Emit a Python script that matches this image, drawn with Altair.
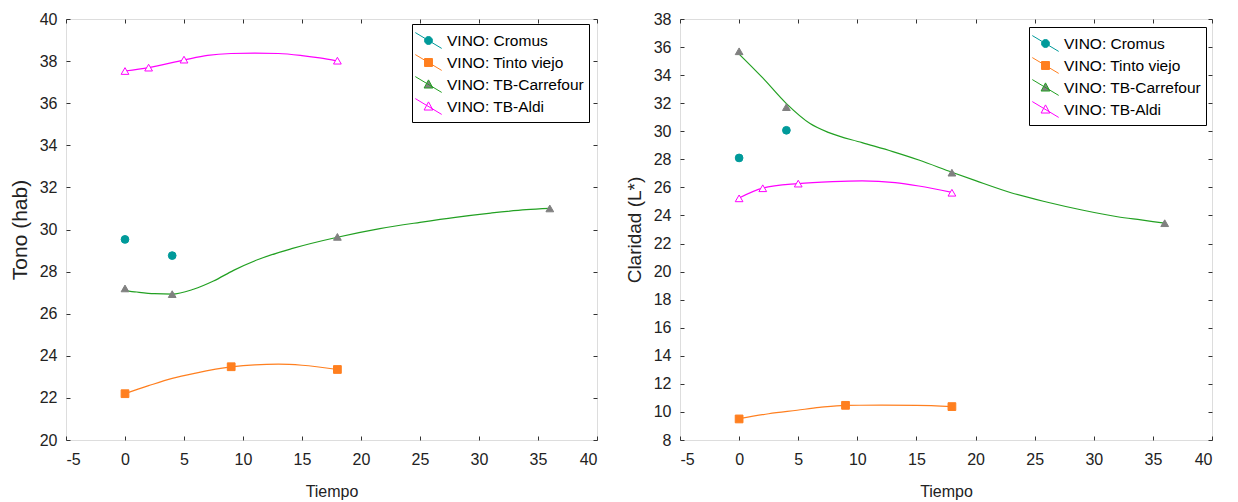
import altair as alt
import pandas as pd

SERIES = ["VINO: Cromus", "VINO: Tinto viejo", "VINO: TB-Carrefour", "VINO: TB-Aldi"]
LINE_COLORS = ["#009a9a", "#ff7f1f", "#22a022", "#ff00ff"]
MARK_FILLS = ["#009a9a", "#ff7f1f", "#808080", "#ffffff"]
MARK_STROKES = ["#009a9a", "#ff7f1f", "#808080", "#ff00ff"]
MARK_SHAPES = ["circle", "square", "triangle-up", "triangle-up"]
LEG_STROKES = ["#009a9a", "#ff7f1f", "#22a022", "#ff00ff"]
LEG_PATHS = [
    "M-1.2,-0.72L1.2,0.72M0.36,0A0.36,0.36,0,1,1,-0.36,0A0.36,0.36,0,1,1,0.36,0Z",
    "M-1.2,-0.72L1.2,0.72M-0.36,-0.36H0.36V0.36H-0.36Z",
    "M-1.2,-0.72L1.2,0.72M0,-0.42L0.4,0.32H-0.4Z",
    "M-1.2,-0.72L1.2,0.72M0,-0.42L0.4,0.32H-0.4Z",
]

X_TICKS = [-5, 0, 5, 10, 15, 20, 25, 30, 35, 40]
TONO_TICKS = [20, 22, 24, 26, 28, 30, 32, 34, 36, 38, 40]
CLAR_TICKS = [8, 10, 12, 14, 16, 18, 20, 22, 24, 26, 28, 30, 32, 34, 36, 38]

# ---- Tono (hab): measured points ----
tono_cromus_t = [0, 4]
tono_cromus_v = [29.53, 28.76]
tono_tinto_t = [0, 9, 18]
tono_tinto_v = [22.2, 23.48, 23.35]
tono_carre_t = [0, 4, 18, 36]
tono_carre_v = [27.2, 26.93, 29.65, 31.0]
tono_aldi_t = [0, 2, 5, 18]
tono_aldi_v = [37.53, 37.69, 38.07, 38.02]

# ---- Tono (hab): fitted curves ----
tono_tinto_ct = [0, 2, 4, 6, 9, 11, 13, 15, 18]
tono_tinto_cv = [22.2, 22.58, 22.93, 23.18, 23.47, 23.57, 23.6, 23.55, 23.35]
tono_carre_ct = [0, 1, 2.5, 4, 5.8, 7.5, 9.2, 11.4, 14.2, 18, 21.6, 25, 28, 31, 34, 36]
tono_carre_cv = [27.1, 27.03, 26.95, 26.93, 27.16, 27.55, 28.06, 28.6, 29.1, 29.63,
                 30.04, 30.34, 30.58, 30.78, 30.94, 31.0]
tono_aldi_ct = [0, 2, 5, 7, 9, 11, 13, 15, 16.5, 18]
tono_aldi_cv = [37.53, 37.69, 38.05, 38.27, 38.36, 38.38, 38.36, 38.26, 38.15, 38.0]

# ---- Claridad (L*): measured points ----
clar_cromus_t = [0, 4]
clar_cromus_v = [28.1, 30.07]
clar_tinto_t = [0, 9, 18]
clar_tinto_v = [9.5, 10.47, 10.38]
clar_carre_t = [0, 4, 18, 36]
clar_carre_v = [35.7, 31.72, 27.05, 23.45]
clar_aldi_t = [0, 2, 5, 18]
clar_aldi_v = [25.22, 25.94, 26.27, 25.62]

# ---- Claridad (L*): fitted curves ----
clar_tinto_ct = [0, 2.5, 4.9, 6.8, 9, 12, 15, 18]
clar_tinto_cv = [9.52, 9.87, 10.12, 10.32, 10.47, 10.48, 10.47, 10.38]
clar_carre_ct = [0, 2, 4, 6, 7.6, 10.4, 13, 15.2, 18, 20, 23, 26, 29, 32, 34, 36]
clar_carre_cv = [35.5, 33.8, 31.97, 30.55, 29.9, 29.19, 28.55, 27.95, 27.08, 26.48,
                 25.62, 24.96, 24.39, 23.91, 23.68, 23.45]
clar_aldi_ct = [0, 2, 5, 7.9, 10.4, 13.2, 15.2, 18]
clar_aldi_cv = [25.25, 25.95, 26.27, 26.41, 26.46, 26.34, 26.1, 25.65]

FONT = "Liberation Sans"
TXT = "#222222"
W, H = 531, 421
HYPHEN_LABEL = "datum.value < 0 ? '-' + abs(datum.value) : '' + datum.value"


def frame(parts):
    rows = []
    for name, ts, vs in parts:
        for t, v in zip(ts, vs):
            rows.append({"t": t, "v": v, "serie": name})
    return pd.DataFrame(rows)


def panel(points, curves, ydom, yticks, ytitle, ytitle_size, legx, legy, width):
    xs = alt.Scale(domain=[-5, 40], nice=False, zero=False)
    ys = alt.Scale(domain=ydom, nice=False, zero=False)
    tick_axis = dict(labels=False, ticks=True, tickSize=4, tickColor="#333333",
                     tickWidth=1, domain=False, grid=False, title=None)

    lines = alt.Chart(curves).mark_line(strokeWidth=1.2, interpolate="monotone").encode(
        x=alt.X("t:Q", scale=xs, axis=alt.Axis(
            orient="bottom", values=X_TICKS, title="Tiempo", ticks=False, tickSize=0,
            domain=False, grid=False, labelPadding=11, labelFontSize=16, labelFont=FONT,
            labelColor=TXT, titleFont=FONT, titleFontSize=16, titleFontWeight="normal",
            titleColor=TXT, titlePadding=16, labelExpr=HYPHEN_LABEL)),
        y=alt.Y("v:Q", scale=ys, axis=alt.Axis(
            orient="left", values=yticks, title=ytitle, ticks=False, tickSize=0,
            domain=False, grid=False, labelPadding=9, labelFontSize=16, labelFont=FONT,
            labelColor=TXT, titleFont=FONT, titleFontSize=ytitle_size,
            titleFontWeight="normal", titleColor=TXT, titlePadding=9)),
        color=alt.Color("serie:N", scale=alt.Scale(domain=SERIES, range=LINE_COLORS),
                        legend=None),
    )

    pts = alt.Chart(points).mark_point(opacity=1, strokeWidth=1, size=60).encode(
        x=alt.X("t:Q", scale=xs, axis=alt.Axis(orient="top", offset=-H, values=X_TICKS,
                                               **tick_axis)),
        y=alt.Y("v:Q", scale=ys, axis=alt.Axis(orient="right", offset=-width, values=yticks,
                                               **tick_axis)),
        fill=alt.Fill("serie:N", scale=alt.Scale(domain=SERIES, range=MARK_FILLS),
                      legend=None),
        stroke=alt.Stroke("serie:N", scale=alt.Scale(domain=SERIES, range=MARK_STROKES),
                          legend=None),
        shape=alt.Shape("serie:N", scale=alt.Scale(domain=SERIES, range=MARK_SHAPES),
                        legend=None),
    )

    leg = alt.Legend(orient="none", legendX=legx, legendY=legy, title=None,
                     labelFont=FONT, labelFontSize=15.5, labelColor="#000000",
                     symbolSize=484, symbolStrokeWidth=1, symbolOpacity=1,
                     strokeColor="#000000", fillColor="#ffffff", padding=5,
                     rowPadding=0, labelOffset=7)
    empty = pd.DataFrame({"t": pd.Series([], dtype=float), "v": pd.Series([], dtype=float),
                          "serie": pd.Series([], dtype=str)})
    proxy = alt.Chart(empty).mark_point(opacity=1, filled=True).encode(
        x=alt.X("t:Q", scale=xs, axis=alt.Axis(orient="bottom", offset=-H, values=X_TICKS,
                                               **tick_axis)),
        y=alt.Y("v:Q", scale=ys, axis=alt.Axis(orient="left", offset=-width, values=yticks,
                                               **tick_axis)),
        fill=alt.Fill("serie:N", scale=alt.Scale(domain=SERIES, range=MARK_FILLS), legend=leg),
        stroke=alt.Stroke("serie:N", scale=alt.Scale(domain=SERIES, range=LEG_STROKES),
                          legend=leg),
        shape=alt.Shape("serie:N", scale=alt.Scale(domain=SERIES, range=LEG_PATHS), legend=leg),
    )

    return alt.layer(lines, pts, proxy).resolve_scale(
        fill="independent", stroke="independent", shape="independent", color="independent"
    ).resolve_axis(x="independent", y="independent").properties(width=width, height=H)


tono_points = frame([
    (SERIES[0], tono_cromus_t, tono_cromus_v),
    (SERIES[1], tono_tinto_t, tono_tinto_v),
    (SERIES[2], tono_carre_t, tono_carre_v),
    (SERIES[3], tono_aldi_t, tono_aldi_v),
])
tono_curves = frame([
    (SERIES[1], tono_tinto_ct, tono_tinto_cv),
    (SERIES[2], tono_carre_ct, tono_carre_cv),
    (SERIES[3], tono_aldi_ct, tono_aldi_cv),
])
clar_points = frame([
    (SERIES[0], clar_cromus_t, clar_cromus_v),
    (SERIES[1], clar_tinto_t, clar_tinto_v),
    (SERIES[2], clar_carre_t, clar_carre_v),
    (SERIES[3], clar_aldi_t, clar_aldi_v),
])
clar_curves = frame([
    (SERIES[1], clar_tinto_ct, clar_tinto_cv),
    (SERIES[2], clar_carre_ct, clar_carre_cv),
    (SERIES[3], clar_aldi_ct, clar_aldi_cv),
])

left = panel(tono_points, tono_curves, [20, 40], TONO_TICKS, "Tono (hab)", 21, 346, 5, W)
right = panel(clar_points, clar_curves, [8, 38], CLAR_TICKS, "Claridad (L*)", 19, 349, 8, 532)

chart = alt.hconcat(left, right, spacing=26).resolve_scale(
    fill="independent", stroke="independent", shape="independent", color="independent"
).resolve_legend(fill="independent", stroke="independent", shape="independent",
                 color="independent").configure_view(
    stroke="#333333", strokeWidth=1.3
).configure(background="white", padding={"left": 0, "top": 2, "right": 5, "bottom": 5})

chart.save("out.html", embed_options={"renderer": "svg", "actions": False})
